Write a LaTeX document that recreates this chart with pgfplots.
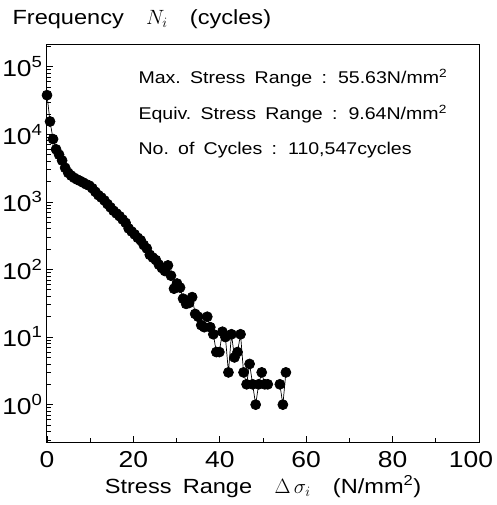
\documentclass[border=0pt]{standalone}
\usepackage{pgfplots}
\pgfplotsset{compat=1.18}
\usepackage{pgfplotstable}
\usepackage{fontspec}
\setmainfont{Liberation Sans}[FakeStretch=1.15, WordSpace=1.7]

% stress range histogram: bin value (N/mm^2) and number of cycles
\pgfplotstableread{
s      n
0.0    38000
0.7    15500
1.4    8500
2.1    6000
2.8    5000
3.5    4100
4.2    3200
4.9    2700
5.6    2450
6.3    2270
7.0    2140
7.7    2040
8.4    1930
9.1    1820
9.8    1740
10.5   1590
11.2   1410
11.9   1260
12.6   1160
13.3   1050
14.0   930
14.7   830
15.4   740
16.1   675
16.8   615
17.5   550
18.2   490
18.9   405
19.6   365
20.3   330
21.0   295
21.7   270
22.4   230
23.1   205
23.8   165
24.5   150
25.2   138
25.9   118
26.6   105
27.3   95
28.0   115
28.7   81
29.4   52
30.1   62
30.8   54
31.5   37
32.2   31
32.9   32
33.6   39
34.3   22
35.0   20
35.7   15
36.4   14
37.1   20
37.8   14
38.5   11
39.2   6
39.9   6
40.6   12
41.3   10
42.0   3
42.7   11
43.4   5
44.1   6
44.8   11
45.5   3
46.2   2
46.9   4
47.6   2
48.3   1
49.0   2
49.7   3
50.4   2
51.1   2
51.8   nan
52.5   nan
53.2   nan
53.9   2
54.6   1
55.3   3
}\histdata

\begin{document}
\begin{tikzpicture}
\begin{axis}[
  name=ax,
  at={(0,0)}, anchor=south west,
  scale only axis, width=432bp, height=397bp,
  xmin=0, xmax=100,
  ymode=log, ymin=0.28, ymax=2.1e5,
  xtick={0,20,...,80},
  minor xtick={10,30,...,90},
  extra x ticks={100},
  extra x tick style={xticklabel style={xshift=-8bp}},
  ytick={1,10,100,1000,10000,100000},
  yticklabels={10\textsuperscript{0},10\textsuperscript{1},10\textsuperscript{2},10\textsuperscript{3},10\textsuperscript{4},10\textsuperscript{5}},
  minor ytick={0.3,0.4,0.5,0.6,0.7,0.8,0.9,2,3,4,5,6,7,8,9,20,30,40,50,60,70,80,90,200,300,400,500,600,700,800,900,2000,3000,4000,5000,6000,7000,8000,9000,20000,30000,40000,50000,60000,70000,80000,90000,200000},
  xticklabel={\pgfmathprintnumber[assume math mode=true]{\tick}},
  tick align=inside,
  xtick pos=bottom, ytick pos=left,
  major tick length=6bp, minor tick length=4bp,
  tick style={black, line width=0.8bp},
  axis line style={line width=1bp},
  ticklabel style={font=\fontsize{23bp}{27bp}\selectfont},
  xticklabel style={yshift=-6bp},
  yticklabel style={xshift=-1bp},
  unbounded coords=jump,
  xlabel={Stress Range\ \ $\Delta\,\sigma_i$\ \ (N/mm\textsuperscript{2})},
  xlabel style={font=\fontsize{20.5bp}{24bp}\selectfont, yshift=-1bp},
]
\addplot[black, line width=0.7bp, mark=*, mark size=5bp,
         mark options={fill=black, draw=black}]
  table[x=s, y=n] {\histdata};
\end{axis}

% right-hand frame edge
\draw[line width=1bp] (ax.south east) -- (ax.north east);

\node[anchor=west, font=\fontsize{20.5bp}{24bp}\selectfont]
  at ([xshift=-38bp, yshift=26bp]ax.north west)
  {Frequency\ \ $N_i$\ \ (cycles)};

\begin{scope}[font=\fontsize{17bp}{20bp}\selectfont]
\node[anchor=west] at ([xshift=88bp, yshift=-33bp]ax.north west)
  {Max.\ Stress Range : 55.63N/mm\textsuperscript{2}};
\node[anchor=west] at ([xshift=88bp, yshift=-69bp]ax.north west)
  {Equiv.\ Stress Range : 9.64N/mm\textsuperscript{2}};
\node[anchor=west] at ([xshift=88bp, yshift=-105bp]ax.north west)
  {No.\ of Cycles : 110,547cycles};
\end{scope}

\pgfresetboundingbox
\path[use as bounding box]
  ([xshift=-47bp, yshift=-63bp]ax.south west) rectangle
  ([xshift=18bp, yshift=45bp]ax.north east);
\end{tikzpicture}
\end{document}
